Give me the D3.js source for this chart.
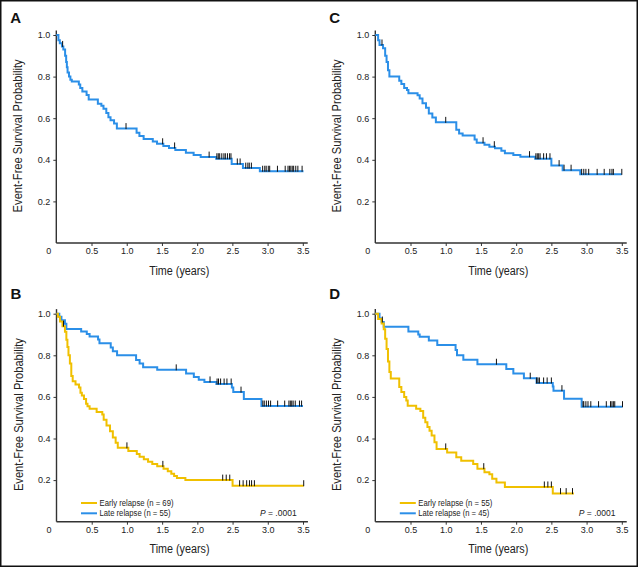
<!DOCTYPE html>
<html><head><meta charset="utf-8">
<script src="https://cdn.jsdelivr.net/npm/d3@7"></script>
<style>
body{margin:0;background:#fff}
svg{display:block}
text{font-family:"Liberation Sans",Arial,Helvetica,sans-serif}
</style>
</head><body>
<svg id="chart" width="640" height="567"></svg>
<script>
// ---------- DATA ----------
const xTickValues = [0, 0.5, 1.0, 1.5, 2.0, 2.5, 3.0, 3.5];
const xTickLabels = ["0", "0.5", "1.0", "1.5", "2.0", "2.5", "3.0", "3.5"];
const yTickValues = [0.2, 0.4, 0.6, 0.8, 1.0];
const yTickLabels = ["0.2", "0.4", "0.6", "0.8", "1.0"];
const panelLetters = ["A", "C", "B", "D"];
const yTitle = "Event-Free Survival Probability";
const xTitle = "Time (years)";
const legendB = ["Early relapse (n = 69)", "Late relapse (n = 55)"];
const legendD = ["Early relapse (n = 55)", "Late relapse (n = 45)"];
const pValueText = ".0001";

// Panel A: all patients
const aTime = [0, 0.03, 0.05, 0.08, 0.10, 0.125, 0.14, 0.15, 0.16, 0.18, 0.20, 0.22, 0.32, 0.34, 0.37, 0.43, 0.46, 0.59, 0.64, 0.67, 0.71, 0.74, 0.77, 0.82, 0.86, 1.14, 1.18, 1.24, 1.37, 1.43, 1.52, 1.60, 1.69, 1.84, 1.95, 2.05, 2.27, 2.49, 2.65, 2.89];
const aSurv = [1.0, 0.975, 0.96, 0.945, 0.93, 0.90, 0.87, 0.845, 0.82, 0.80, 0.785, 0.776, 0.762, 0.745, 0.728, 0.712, 0.69, 0.67, 0.66, 0.645, 0.625, 0.605, 0.59, 0.575, 0.55, 0.53, 0.515, 0.50, 0.488, 0.477, 0.466, 0.457, 0.447, 0.434, 0.423, 0.413, 0.405, 0.38, 0.36, 0.345];
const aEnd = 3.51;
const aCensor = [0.09, 0.99, 1.51, 1.68, 2.17, 2.28, 2.30, 2.32, 2.35, 2.38, 2.40, 2.43, 2.46, 2.48, 2.57, 2.61, 2.69, 2.72, 2.74, 2.77, 2.93, 2.96, 2.98, 3.01, 3.03, 3.14, 3.25, 3.29, 3.31, 3.33, 3.35, 3.37, 3.40, 3.43, 3.49];

// Panel C
const cTime = [0, 0.04, 0.06, 0.11, 0.14, 0.16, 0.18, 0.20, 0.34, 0.37, 0.41, 0.45, 0.47, 0.60, 0.63, 0.67, 0.72, 0.76, 0.81, 0.86, 1.15, 1.19, 1.24, 1.41, 1.44, 1.55, 1.62, 1.70, 1.79, 1.84, 1.96, 2.06, 2.27, 2.50, 2.66, 2.91];
const cSurv = [1.0, 0.975, 0.952, 0.936, 0.90, 0.87, 0.83, 0.80, 0.78, 0.765, 0.745, 0.735, 0.72, 0.71, 0.695, 0.672, 0.65, 0.622, 0.603, 0.58, 0.545, 0.527, 0.517, 0.498, 0.482, 0.472, 0.463, 0.455, 0.444, 0.432, 0.423, 0.415, 0.405, 0.372, 0.35, 0.33];
const cEnd = 3.50;
const cCensor = [0.095, 1.0, 1.53, 1.69, 2.19, 2.28, 2.30, 2.32, 2.34, 2.39, 2.43, 2.48, 2.61, 2.68, 2.78, 2.93, 2.96, 2.99, 3.03, 3.15, 3.25, 3.33, 3.36, 3.38, 3.50];

// Panel B: early relapse (yellow), late relapse (blue)
const bEarlyTime = [0, 0.02, 0.05, 0.085, 0.12, 0.14, 0.155, 0.17, 0.19, 0.21, 0.23, 0.27, 0.32, 0.34, 0.36, 0.39, 0.42, 0.44, 0.47, 0.57, 0.65, 0.67, 0.71, 0.76, 0.80, 0.84, 0.87, 1.02, 1.14, 1.18, 1.24, 1.30, 1.36, 1.43, 1.52, 1.58, 1.63, 1.67, 1.71, 1.83, 2.50];
const bEarlySurv = [1.0, 0.985, 0.962, 0.94, 0.913, 0.875, 0.84, 0.80, 0.76, 0.70, 0.675, 0.66, 0.645, 0.62, 0.607, 0.59, 0.567, 0.555, 0.543, 0.527, 0.515, 0.49, 0.462, 0.435, 0.405, 0.38, 0.355, 0.34, 0.325, 0.312, 0.30, 0.288, 0.277, 0.266, 0.255, 0.243, 0.231, 0.22, 0.21, 0.20, 0.173];
const bEarlyEnd = 3.51;
const bEarlyCensor = [0.10, 1.0, 1.51, 2.36, 2.41, 2.46, 2.60, 2.65, 2.70, 2.74, 2.77, 2.81, 3.51];

const bLateTime = [0, 0.04, 0.07, 0.12, 0.14, 0.35, 0.43, 0.47, 0.59, 0.61, 0.77, 0.80, 0.86, 1.13, 1.18, 1.23, 1.43, 1.84, 1.95, 2.02, 2.10, 2.27, 2.49, 2.51, 2.66, 2.91];
const bLateSurv = [1.0, 0.985, 0.968, 0.952, 0.927, 0.915, 0.903, 0.89, 0.876, 0.858, 0.838, 0.82, 0.80, 0.777, 0.76, 0.743, 0.73, 0.712, 0.696, 0.683, 0.672, 0.662, 0.645, 0.623, 0.59, 0.556];
const bLateEnd = 3.50;
const bLateCensor = [1.70, 2.18, 2.28, 2.30, 2.33, 2.38, 2.42, 2.48, 2.62, 2.93, 2.95, 2.98, 3.01, 3.04, 3.14, 3.24, 3.30, 3.32, 3.34, 3.36, 3.39, 3.45, 3.48];

// Panel D: early relapse (yellow), late relapse (blue)
const dEarlyTime = [0, 0.04, 0.09, 0.12, 0.14, 0.16, 0.18, 0.20, 0.22, 0.34, 0.37, 0.41, 0.44, 0.46, 0.58, 0.64, 0.68, 0.71, 0.74, 0.77, 0.80, 0.84, 0.87, 1.02, 1.15, 1.22, 1.39, 1.45, 1.55, 1.62, 1.66, 1.72, 1.84, 2.52];
const dEarlySurv = [1.0, 0.975, 0.953, 0.925, 0.88, 0.83, 0.77, 0.72, 0.688, 0.648, 0.623, 0.60, 0.583, 0.557, 0.543, 0.532, 0.50, 0.478, 0.455, 0.437, 0.414, 0.382, 0.35, 0.333, 0.31, 0.293, 0.277, 0.255, 0.238, 0.228, 0.206, 0.188, 0.167, 0.135];
const dEarlyEnd = 2.82;
const dEarlyCensor = [1.0, 1.54, 2.40, 2.45, 2.50, 2.63, 2.71, 2.80];

const dLateTime = [0, 0.06, 0.09, 0.12, 0.47, 0.61, 0.63, 0.76, 0.88, 1.14, 1.16, 1.25, 1.45, 1.86, 1.96, 2.11, 2.29, 2.52, 2.53, 2.68, 2.93];
const dLateSurv = [1.0, 0.977, 0.96, 0.937, 0.915, 0.90, 0.889, 0.871, 0.849, 0.825, 0.80, 0.779, 0.757, 0.734, 0.712, 0.69, 0.667, 0.65, 0.63, 0.591, 0.553];
const dLateEnd = 3.51;
const dLateCensor = [0.10, 1.72, 2.20, 2.29, 2.31, 2.33, 2.39, 2.44, 2.50, 2.65, 2.95, 2.96, 2.99, 3.02, 3.06, 3.17, 3.28, 3.34, 3.36, 3.38, 3.40, 3.51];

// ---------- DRAWING ----------
const BLUE = "#2b8fe8";
const YELLOW = "#f0c000";
const AXIS = "#333";
const svg = d3.select("#chart");

svg.append("rect").attr("x", 0.75).attr("y", 0.75).attr("width", 636.5).attr("height", 565.5)
  .attr("fill", "none").attr("stroke", "#111").attr("stroke-width", 1.5);

const W = 246.5, H = 208;
const panels = [
  {letter: panelLetters[0], left: 56.3, top: 35, series: [{t: aTime, s: aSurv, end: aEnd, censor: aCensor, color: BLUE}]},
  {letter: panelLetters[1], left: 375.3, top: 35, series: [{t: cTime, s: cSurv, end: cEnd, censor: cCensor, color: BLUE}]},
  {letter: panelLetters[2], left: 56.5, top: 313.7, legend: legendB, series: [
    {t: bLateTime, s: bLateSurv, end: bLateEnd, censor: bLateCensor, color: BLUE},
    {t: bEarlyTime, s: bEarlySurv, end: bEarlyEnd, censor: bEarlyCensor, color: YELLOW}]},
  {letter: panelLetters[3], left: 375.3, top: 313.7, legend: legendD, series: [
    {t: dLateTime, s: dLateSurv, end: dLateEnd, censor: dLateCensor, color: BLUE},
    {t: dEarlyTime, s: dEarlySurv, end: dEarlyEnd, censor: dEarlyCensor, color: YELLOW}]}
];

panels.forEach(p => {
  const x = d3.scaleLinear().domain([0, 3.5]).range([p.left, p.left + W]);
  const y = d3.scaleLinear().domain([0, 1]).range([p.top + H, p.top]);
  const g = svg.append("g");

  // letter
  svg.append("text").attr("x", p.left - 46).attr("y", p.top < 100 ? 23 : 299)
    .attr("font-size", 15).attr("font-weight", "bold").attr("fill", "#111").text(p.letter);

  // x axis
  const gx = g.append("g").attr("transform", `translate(0,${y(0)})`)
    .call(d3.axisBottom(x).tickValues(xTickValues).tickSize(3).tickPadding(2)
      .tickFormat((d, i) => xTickLabels[i]));
  gx.select(".domain").remove();
  gx.selectAll(".tick line").attr("stroke", AXIS).filter(d => d === 0).remove();
  gx.selectAll(".tick text").attr("font-size", 9).attr("fill", "#222")
    .attr("font-family", "Liberation Sans, Arial, sans-serif")
    .filter(d => d === 0).attr("dx", -8);

  // y axis
  const gy = g.append("g").attr("transform", `translate(${x(0)},0)`)
    .call(d3.axisLeft(y).tickValues(yTickValues).tickSize(3).tickPadding(3)
      .tickFormat((d, i) => yTickLabels[i]));
  gy.select(".domain").remove();
  gy.selectAll(".tick line").attr("stroke", AXIS);
  gy.selectAll(".tick text").attr("font-size", 9).attr("fill", "#222")
    .attr("font-family", "Liberation Sans, Arial, sans-serif");

  // axis lines
  g.append("line").attr("x1", x(0)).attr("x2", x(3.57)).attr("y1", y(0)).attr("y2", y(0))
    .attr("stroke", AXIS).attr("stroke-width", 1.4);
  g.append("line").attr("x1", x(0)).attr("x2", x(0)).attr("y1", y(0)).attr("y2", y(1.022))
    .attr("stroke", AXIS).attr("stroke-width", 1.4);

  // titles
  g.append("text").attr("transform", `translate(${p.left - 34},${y(0.515)}) rotate(-90)`)
    .attr("text-anchor", "middle").attr("font-size", 12).attr("fill", "#222")
    .attr("textLength", 153).attr("lengthAdjust", "spacingAndGlyphs").text(yTitle);
  g.append("text").attr("x", p.left + 123).attr("y", y(0) + 31.5)
    .attr("text-anchor", "middle").attr("font-size", 12).attr("fill", "#222")
    .attr("textLength", 60).attr("lengthAdjust", "spacingAndGlyphs").text(xTitle);

  // curves
  const line = d3.line().x(d => x(d[0])).y(d => y(d[1])).curve(d3.curveStepAfter);
  p.series.forEach(s => {
    const pts = s.t.map((t, i) => [t, s.s[i]]);
    pts.push([s.end, s.s[s.s.length - 1]]);
    g.append("path").attr("d", line(pts)).attr("fill", "none")
      .attr("stroke", s.color).attr("stroke-width", 2);
  });
  p.series.forEach(s => {
    const bis = d3.bisector(d => d).right;
    s.censor.forEach(c => {
      const idx = Math.max(0, bis(s.t, c) - 1);
      const v = s.s[idx];
      g.append("line").attr("x1", x(c)).attr("x2", x(c))
        .attr("y1", y(v) - 5.5).attr("y2", y(v) + 0.5)
        .attr("stroke", "#111").attr("stroke-width", 1);
    });
  });

  // legend
  if (p.legend) {
    const ly = [y(0) - 18.7, y(0) - 8.4];
    const cols = [YELLOW, BLUE];
    const lens = [74, 71];
    p.legend.forEach((txt, i) => {
      g.append("line").attr("x1", p.left + 24.5).attr("x2", p.left + 40.5)
        .attr("y1", ly[i]).attr("y2", ly[i]).attr("stroke", cols[i]).attr("stroke-width", 2);
      g.append("text").attr("x", p.left + 43).attr("y", ly[i] + 3).attr("font-size", 8.5)
        .attr("fill", "#222").attr("textLength", lens[i]).attr("lengthAdjust", "spacingAndGlyphs").text(txt);
    });
    const pt = g.append("text").attr("x", p.left + 203.5).attr("y", ly[1] + 3)
      .attr("font-size", 8.5).attr("fill", "#222");
    pt.append("tspan").attr("font-style", "italic").text("P");
    pt.append("tspan").text(" = " + pValueText);
  }
});
</script>
</body></html>
